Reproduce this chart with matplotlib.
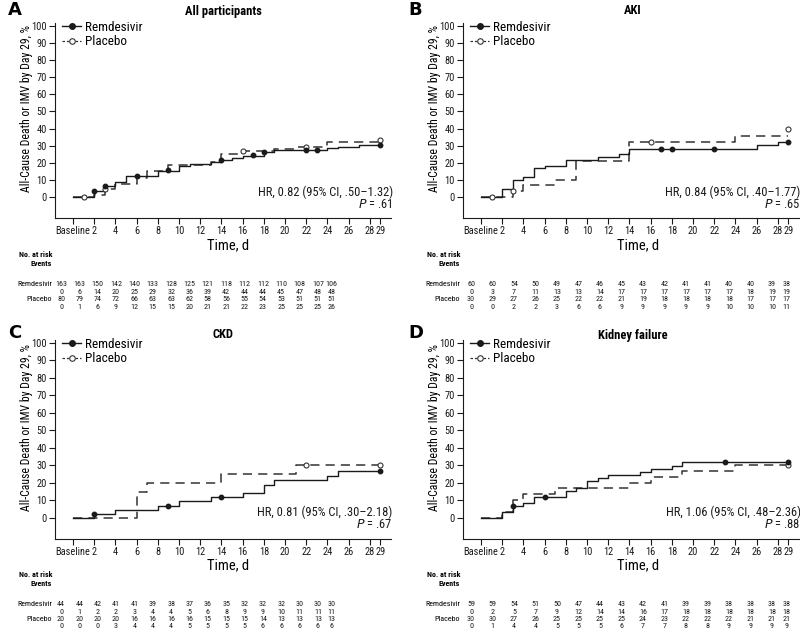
import matplotlib
matplotlib.use("Agg")
import matplotlib.pyplot as plt
from matplotlib.lines import Line2D

plt.rcParams['font.family'] = ['Roboto Condensed', 'Archivo Narrow', 'DejaVu Sans']

# ---------------- data ----------------
panel_letters = ["A", "B", "C", "D"]
panel_titles = ["All participants", "AKI", "CKD", "Kidney failure"]
hr_texts = ["HR, 0.82 (95% CI, .50\u20131.32)", "HR, 0.84 (95% CI, .40\u20131.77)",
            "HR, 0.81 (95% CI, .30\u20132.18)", "HR, 1.06 (95% CI, .48\u20132.36)"]
p_texts = [".61", ".65", ".67", ".88"]

xtick_vals = [0, 2, 4, 6, 8, 10, 12, 14, 16, 18, 20, 22, 24, 26, 28, 29]
xtick_labels = ["Baseline", "2", "4", "6", "8", "10", "12", "14", "16", "18", "20",
                "22", "24", "26", "28", "29"]

# Panel A
rem_A_t = [0, 2, 3, 4, 5, 8, 10, 11, 12, 13, 14, 15, 16, 18, 19, 20, 24, 25, 27, 29]
rem_A_v = [0, 3.7, 6.6, 8.8, 12.2, 15.5, 18.0, 19.2, 19.7, 20.6, 22.0, 23.0, 24.0, 26.2,
           27.4, 27.8, 28.5, 29.2, 30.2, 30.2]
rem_A_cx = [2, 3, 6, 9, 14, 17, 18, 22, 23, 29]
rem_A_cy = [3.7, 6.7, 12.3, 16.0, 22.0, 24.5, 26.2, 27.8, 27.8, 30.3]
plc_A_t = [0, 2, 3, 4, 6, 7, 9, 13, 14, 16, 19, 21, 24, 29]
plc_A_v = [0, 1.2, 5.0, 7.5, 11.2, 15.2, 19.0, 20.5, 25.5, 26.8, 28.0, 29.5, 32.2, 32.2]
plc_A_cx = [1, 3, 16, 22, 29]
plc_A_cy = [0, 4.8, 26.8, 29.5, 33.6]

# Panel B
rem_B_t = [0, 2, 3, 4, 5, 6, 8, 11, 13, 14, 26, 28, 29]
rem_B_v = [0, 5.0, 10.0, 11.7, 16.9, 18.5, 21.7, 23.4, 25.0, 28.4, 30.3, 32.1, 32.1]
rem_B_cx = [17, 18, 22, 29]
rem_B_cy = [28.4, 28.4, 28.4, 32.1]
plc_B_t = [0, 3, 4, 7, 9, 14, 24, 29]
plc_B_v = [0, 3.5, 7.1, 10.4, 21.4, 32.1, 35.9, 35.9]
plc_B_cx = [1, 3, 16, 29]
plc_B_cy = [0, 3.5, 32.1, 39.8]

# Panel C
rem_C_t = [0, 2, 4, 8, 10, 13, 16, 18, 19, 24, 25, 29]
rem_C_v = [0, 2.3, 4.6, 7.0, 9.4, 11.8, 14.2, 19.0, 21.5, 24.0, 26.5, 26.5]
rem_C_cx = [2, 9, 14, 29]
rem_C_cy = [2.3, 7.0, 11.8, 26.5]
plc_C_t = [0, 6, 7, 14, 21, 29]
plc_C_v = [0, 15.0, 20.0, 25.0, 30.0, 30.0]
plc_C_cx = [22, 29]
plc_C_cy = [30.0, 30.0]

# Panel D
rem_D_t = [0, 2, 3, 4, 5, 8, 9, 10, 11, 12, 15, 16, 18, 19, 29]
rem_D_v = [0, 3.4, 6.8, 8.5, 12.0, 15.3, 17.0, 20.9, 22.6, 24.5, 26.4, 28.0, 29.8, 31.7, 31.7]
rem_D_cx = [3, 6, 23, 29]
rem_D_cy = [6.8, 12.0, 31.7, 31.7]
plc_D_t = [0, 2, 3, 4, 7, 14, 16, 19, 24, 29]
plc_D_v = [0, 3.3, 10.3, 13.7, 17.0, 20.0, 23.5, 27.0, 30.3, 30.3]
plc_D_cx = [29]
plc_D_cy = [30.0]

# Risk tables
A_rem_risk = [163, 163, 150, 142, 140, 133, 128, 125, 121, 118, 112, 112, 110, 108, 107, 106]
A_rem_ev = [0, 6, 14, 20, 25, 29, 32, 36, 39, 42, 44, 44, 45, 47, 48, 48]
A_plc_risk = [80, 79, 74, 72, 66, 63, 63, 62, 58, 56, 55, 54, 53, 51, 51, 51]
A_plc_ev = [0, 1, 6, 9, 12, 15, 15, 20, 21, 21, 22, 23, 25, 25, 25, 26]
B_rem_risk = [60, 60, 54, 50, 49, 47, 46, 45, 43, 42, 41, 41, 40, 40, 39, 38]
B_rem_ev = [0, 3, 7, 11, 13, 13, 14, 17, 17, 17, 17, 17, 17, 18, 19, 19]
B_plc_risk = [30, 29, 27, 26, 25, 22, 22, 21, 19, 18, 18, 18, 18, 17, 17, 17]
B_plc_ev = [0, 0, 2, 2, 3, 6, 6, 9, 9, 9, 9, 9, 10, 10, 10, 11]
C_rem_risk = [44, 44, 42, 41, 41, 39, 38, 37, 36, 35, 32, 32, 32, 30, 30, 30]
C_rem_ev = [0, 1, 2, 2, 3, 4, 4, 5, 6, 8, 9, 9, 10, 11, 11, 11]
C_plc_risk = [20, 20, 20, 20, 16, 16, 16, 16, 15, 15, 15, 14, 13, 13, 13, 13]
C_plc_ev = [0, 0, 0, 3, 4, 4, 4, 5, 5, 5, 5, 6, 6, 6, 6, 6]
D_rem_risk = [59, 59, 54, 51, 50, 47, 44, 43, 42, 41, 39, 39, 38, 38, 38, 38]
D_rem_ev = [0, 2, 5, 7, 9, 12, 14, 14, 16, 17, 18, 18, 18, 18, 18, 18]
D_plc_risk = [30, 30, 27, 26, 25, 25, 25, 25, 24, 23, 22, 22, 22, 21, 21, 21]
D_plc_ev = [0, 1, 4, 4, 5, 5, 5, 6, 7, 7, 8, 8, 9, 9, 9, 9]

panels = [
    dict(rem=(rem_A_t, rem_A_v, rem_A_cx, rem_A_cy), plc=(plc_A_t, plc_A_v, plc_A_cx, plc_A_cy),
         table=(A_rem_risk, A_rem_ev, A_plc_risk, A_plc_ev)),
    dict(rem=(rem_B_t, rem_B_v, rem_B_cx, rem_B_cy), plc=(plc_B_t, plc_B_v, plc_B_cx, plc_B_cy),
         table=(B_rem_risk, B_rem_ev, B_plc_risk, B_plc_ev)),
    dict(rem=(rem_C_t, rem_C_v, rem_C_cx, rem_C_cy), plc=(plc_C_t, plc_C_v, plc_C_cx, plc_C_cy),
         table=(C_rem_risk, C_rem_ev, C_plc_risk, C_plc_ev)),
    dict(rem=(rem_D_t, rem_D_v, rem_D_cx, rem_D_cy), plc=(plc_D_t, plc_D_v, plc_D_cx, plc_D_cy),
         table=(D_rem_risk, D_rem_ev, D_plc_risk, D_plc_ev)),
]

# ---------------- layout ----------------
W, H = 800, 630
fig = plt.figure(figsize=(W / 100, H / 100), dpi=100)

def fx(px):
    return px / W

def fy(py):
    return 1 - py / H

rects = [(55, 23, 336, 195), (463, 23, 336, 195), (55, 340, 336, 199), (463, 340, 336, 199)]
row_off = [0, 0, 320, 320]
col_left = [True, False, True, False]

ink = "#1a1a1a"
tfs = 5.8
for i, pdata in enumerate(panels):
    l, t, w, h = rects[i]
    ax = fig.add_axes([fx(l), fy(t + h), w / W, h / H])
    ax.set_xlim(-1.7, 30)
    ax.set_ylim(-12, 101.5)
    for s in ["top", "right"]:
        ax.spines[s].set_visible(False)
    for s in ["left", "bottom"]:
        ax.spines[s].set_linewidth(0.8)
        ax.spines[s].set_color(ink)
    ax.set_xticks(xtick_vals)
    ax.set_xticklabels(xtick_labels, fontsize=7.5)
    ax.set_yticks(range(0, 101, 10))
    ax.set_yticklabels([str(v) for v in range(0, 101, 10)], fontsize=7.5)
    ax.tick_params(direction="out", length=4, width=0.8, pad=2, colors=ink)
    ax.set_ylabel("All-Cause Death or IMV by Day 29, %", fontsize=8.5)
    ax.yaxis.set_label_coords(-0.065, 0.56)

    rt, rv, rcx, rcy = pdata["rem"]
    pt, pv, pcx, pcy = pdata["plc"]
    ax.step(pt, pv, where="post", color="#333333", lw=1.1, ls=(0, (6, 4)))
    ax.step(rt, rv, where="post", color=ink, lw=1.0)
    ax.plot(pcx, pcy, ls="none", marker="o", ms=3.6, mfc="white", mec="#333333", mew=0.8)
    ax.plot(rcx, rcy, ls="none", marker="o", ms=3.2, mfc=ink, mec=ink)

    ax.text(1.005, 3, hr_texts[i], transform=ax.get_yaxis_transform(), ha="right",
            va="center", fontsize=9, color=ink)
    ax.text(1.005, -4, "$\\mathit{P}$ = " + p_texts[i], transform=ax.get_yaxis_transform(),
            ha="right", va="center", fontsize=9, color=ink)

    handles = [Line2D([], [], color=ink, lw=1.0, marker="o", ms=4, mfc=ink),
               Line2D([], [], color="#333333", lw=0.9, ls=(0, (2, 1.5)), marker="o", ms=4,
                      mfc="white", mew=0.8)]
    ax.legend(handles, ["Remdesivir", "Placebo"], loc="upper left", bbox_to_anchor=(0.022, 1.01),
              frameon=False, fontsize=9.5, handlelength=1.4, handletextpad=0.3,
              labelspacing=0.1, borderpad=0, borderaxespad=0)

    ro = row_off[i]
    left_x = 8 if col_left[i] else 408
    fig.text(fx(left_x), fy(10 + ro + (3 if i >= 2 else 0)), panel_letters[i], fontsize=13,
             fontweight="bold", ha="left", va="center", family=["DejaVu Sans"])
    center_x = 223 if col_left[i] else 633
    fig.text(fx(center_x), fy(11 + ro + (4 if i >= 2 else 0)), panel_titles[i], fontsize=9,
             fontweight="bold", ha="center", va="center")
    fig.text(fx(center_x + 5), fy(245 + ro), "Time, d", fontsize=10.5, ha="center", va="center")

    rr, re, pr, pe = pdata["table"]
    if col_left[i]:
        cols = [61 + 18.35 * k for k in range(15)] + [331.7]
        lab_r = 52
    else:
        cols = [471 + 21.5 * k for k in range(15)] + [786.7]
        lab_r = 460
    ys = [283, 291, 298.5, 306]
    ys = [y + ro for y in ys]
    fig.text(fx(lab_r), fy(254 + ro), "No. at risk", fontsize=tfs, fontweight="bold",
             ha="right", va="center_baseline")
    fig.text(fx(lab_r), fy(263 + ro), "Events", fontsize=tfs, fontweight="bold",
             ha="right", va="center_baseline")
    fig.text(fx(lab_r), fy(ys[0]), "Remdesivir", fontsize=tfs, ha="right", va="center_baseline")
    fig.text(fx(lab_r), fy(ys[2]), "Placebo", fontsize=tfs, ha="right", va="center_baseline")
    for row, vals in enumerate([rr, re, pr, pe]):
        for cx, v in zip(cols, vals):
            fig.text(fx(cx), fy(ys[row]), str(v), fontsize=tfs, ha="center",
                     va="center_baseline", color=ink)

fig.savefig("out.png", dpi=100, facecolor="white")
